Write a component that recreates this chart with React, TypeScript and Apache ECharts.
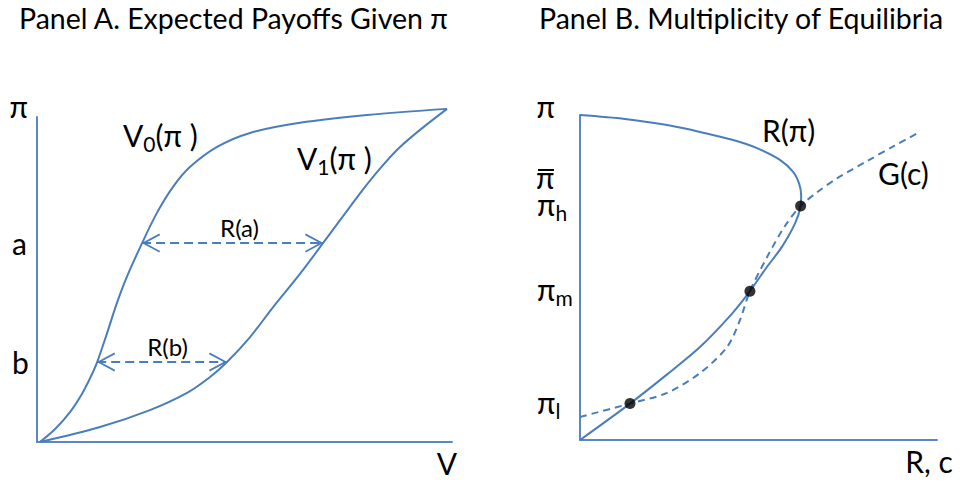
import { useEffect, useRef } from "react";
import * as echarts from "echarts";

// ---- Panel A: expected payoffs, points are [V, π] ----
const v0Curve: number[][] = [
  [0, 0], [3.7, 4.0], [7.3, 9.2], [10.2, 14.8], [12.2, 19.7], [13.9, 24.6],
  [16.3, 33.5], [18.7, 42.8], [21.1, 50.8], [24.8, 61.2], [28.4, 70.5],
  [32.3, 78.5], [36.4, 84.6], [43.0, 90.8], [51.0, 95.1], [63.1, 98.2],
  [79.4, 100.6], [98.8, 102.5],
];
const v1Curve: number[][] = [
  [0, 0], [14.6, 4.6], [26.7, 9.8], [35.7, 15.1], [41.3, 20.0], [45.4, 24.6],
  [51.0, 32.3], [56.6, 41.5], [63.1, 51.7], [68.7, 61.2], [75.2, 72.3],
  [80.8, 81.5], [87.4, 90.8], [98.8, 102.5],
];
const levelNames = ["b", "a"];
const levelValues = [24.6, 61.2];
// horizontal gaps R(b), R(a): [from V0, to V1]
const gapNames = ["R(b)", "R(a)"];
const gapFrom = [13.9, 24.8];
const gapTo = [45.4, 68.7];

// ---- Panel B: multiplicity of equilibria, points are [R or c, π] ----
const rCurve: number[][] = [
  [0, 100], [12.6, 98.8], [24.4, 96.9], [33.6, 94.8], [42.9, 92.3], [49.6, 89.8],
  [56.0, 86.2], [59.7, 82.5], [61.4, 78.8], [61.95, 75.2], [61.8, 72.0],
  [60.3, 66.8], [56.6, 59.5], [52.2, 53.0], [47.6, 45.8], [42.6, 38.9],
  [33.6, 28.6], [24.4, 20.2], [14.0, 11.2], [0, 0],
];
const gCurve: number[][] = [
  [0, 7.1], [14.0, 11.2], [24.4, 14.5], [33.6, 20.6], [41.2, 28.6], [44.8, 36.9],
  [47.6, 45.8], [52.4, 56.3], [57.5, 66.0], [61.8, 72.0], [66.5, 76.3],
  [72.0, 80.5], [80.4, 85.8], [88.0, 90.5], [95.2, 94.8],
];
const equilibria: number[][] = [[14.0, 11.2], [47.6, 45.8], [61.8, 72.0]];
const piTickValues = [11.2, 45.8, 72.0];
const piTickLabels = ["{p|π}{s|l}", "{p|π}{s|m}", "{p|π}{s|h}"];

const FONT = 'Lato, "Open Sans", sans-serif';
const LINE = "#4a7ebb";
const AXIS = "#5b87c5";
const INK = "#000000";

// open chevron arrowhead, tip at the centre of its box, pointing up
const CHEVRON =
  "path://M10,18 L20,36 L18.2,36.8 L10,21.8 L1.8,36.8 L0,36 Z M10,0 L10.02,0 L10,0.02 Z";

// main text with a lowered subscript
const subRich = {
  p: { fontSize: 30, fontFamily: FONT, color: INK, lineHeight: 34, verticalAlign: "top" },
  s: { fontSize: 21, fontFamily: FONT, color: INK, lineHeight: 14, verticalAlign: "bottom" },
};

function curveLabel(x: number, y: number, text: string) {
  return {
    type: "text",
    x,
    y,
    silent: true,
    style: {
      text,
      rich: subRich,
      fontSize: 30,
      fontFamily: FONT,
      fill: INK,
      align: "left",
      verticalAlign: "middle",
      textAlign: "left",
      textVerticalAlign: "middle",
    },
  };
}

export default function App() {
  const ref = useRef<HTMLDivElement>(null);

  useEffect(() => {
    if (!ref.current) return;
    const chart = echarts.init(ref.current, undefined, { renderer: "svg" });

    const hiddenAxisBits = {
      axisTick: { show: false },
      splitLine: { show: false },
    };
    const axisLine = { show: true, onZero: false, lineStyle: { color: AXIS, width: 2 } };
    const titleStyle = { fontSize: 28.5, fontWeight: "normal", color: INK, fontFamily: FONT };

    chart.setOption({
      animation: false,
      backgroundColor: "#ffffff",
      title: [
        { text: "Panel A. Expected Payoffs Given π", left: 14, top: -2, textStyle: titleStyle },
        { text: "Panel B. Multiplicity of Equilibria", left: 534, top: -2, textStyle: titleStyle },
      ],
      grid: [
        { left: 37, top: 117, width: 415, height: 325 },
        { left: 580, top: 115, width: 357, height: 325 },
      ],
      xAxis: [
        {
          gridIndex: 0,
          type: "value",
          min: -0.7,
          max: 100,
          axisLine,
          axisLabel: { show: false },
          ...hiddenAxisBits,
          name: "V",
          nameLocation: "end",
          nameGap: -5,
          nameTextStyle: {
            fontSize: 30, fontFamily: FONT, color: INK,
            align: "center", verticalAlign: "top", padding: [6, 0, 0, 0],
          },
        },
        {
          gridIndex: 1,
          type: "value",
          min: 0,
          max: 100,
          axisLine,
          axisLabel: { show: false },
          ...hiddenAxisBits,
          name: "R, c",
          nameLocation: "end",
          nameGap: -8,
          nameTextStyle: {
            fontSize: 30, fontFamily: FONT, color: INK,
            align: "center", verticalAlign: "top", padding: [6, 0, 0, 0],
          },
        },
      ],
      yAxis: [
        {
          gridIndex: 0,
          type: "value",
          min: 0,
          max: 100,
          axisLine,
          ...hiddenAxisBits,
          axisLabel: {
            show: true,
            customValues: levelValues,
            formatter: (v: number) => levelNames[levelValues.indexOf(v)] ?? "",
            align: "left",
            margin: 25,
            fontSize: 30,
            fontFamily: FONT,
            color: INK,
            hideOverlap: false,
          },
          name: "π",
          nameLocation: "end",
          nameGap: 11,
          nameTextStyle: {
            fontSize: 30, fontFamily: FONT, color: INK,
            align: "right", verticalAlign: "middle", padding: [0, 9, 0, 0],
          },
        },
        {
          gridIndex: 1,
          type: "value",
          min: 0,
          max: 100,
          axisLine,
          ...hiddenAxisBits,
          axisLabel: {
            show: true,
            customValues: piTickValues,
            formatter: (v: number) => piTickLabels[piTickValues.indexOf(v)] ?? "",
            align: "left",
            margin: 43,
            color: INK,
            rich: subRich,
            hideOverlap: false,
          },
          name: "π",
          nameLocation: "end",
          nameGap: 9,
          nameTextStyle: {
            fontSize: 30, fontFamily: FONT, color: INK,
            align: "right", verticalAlign: "middle", padding: [0, 25, 0, 0],
          },
        },
      ],
      series: [
        {
          name: "V0",
          type: "line",
          xAxisIndex: 0,
          yAxisIndex: 0,
          data: v0Curve,
          smooth: 0.35,
          showSymbol: false,
          clip: false,
          silent: true,
          lineStyle: { color: LINE, width: 2 },
          markLine: {
            silent: true,
            symbol: [CHEVRON, CHEVRON],
            symbolSize: [19, 36],
            lineStyle: { type: [9, 5], width: 2, color: LINE },
            itemStyle: { color: LINE },
            label: {
              show: true,
              position: "insideMiddleTop",
              formatter: "{b}",
              fontSize: 24,
              fontFamily: FONT,
              color: INK,
              distance: 4,
            },
            data: gapNames.map((name, i) => [
              {
                name,
                coord: [gapFrom[i], levelValues[i]],
                label: { padding: [0, 0, 0, i === 1 ? 14 : 11] },
              },
              { coord: [gapTo[i], levelValues[i]] },
            ]),
          },
        },
        {
          name: "V1",
          type: "line",
          xAxisIndex: 0,
          yAxisIndex: 0,
          data: v1Curve,
          smooth: 0.35,
          showSymbol: false,
          clip: false,
          silent: true,
          lineStyle: { color: LINE, width: 2 },
        },
        {
          name: "R",
          type: "line",
          xAxisIndex: 1,
          yAxisIndex: 1,
          data: rCurve,
          smooth: 0.3,
          showSymbol: false,
          clip: false,
          silent: true,
          lineStyle: { color: LINE, width: 2 },
        },
        {
          name: "G",
          type: "line",
          xAxisIndex: 1,
          yAxisIndex: 1,
          data: gCurve,
          smooth: 0.3,
          showSymbol: false,
          clip: false,
          silent: true,
          lineStyle: { color: LINE, width: 2, type: [7, 5] },
        },
        {
          name: "equilibria",
          type: "scatter",
          xAxisIndex: 1,
          yAxisIndex: 1,
          data: equilibria,
          symbolSize: 11,
          z: 5,
          silent: true,
          itemStyle: { color: "#000000" },
        },
      ],
      graphic: [
        curveLabel(123, 137, "{p|V}{s|0}{p|(π )}"),
        curveLabel(297, 160, "{p|V}{s|1}{p|(π )}"),
        curveLabel(762, 132, "{p|R(π)}"),
        curveLabel(878, 175, "{p|G(c)}"),
        // π with an overbar: the upper threshold on the π axis
        {
          type: "text",
          x: 536,
          y: 177,
          silent: true,
          style: {
            text: "π",
            fontSize: 30,
            lineHeight: 14,
            fontFamily: FONT,
            fill: INK,
            align: "left",
            verticalAlign: "middle",
            textAlign: "left",
            textVerticalAlign: "middle",
          },
        },
        {
          type: "rect",
          silent: true,
          shape: { x: 538, y: 169, width: 16, height: 2 },
          style: { fill: INK },
        },
      ],
    });

    return () => chart.dispose();
  }, []);

  return (
    <div
      ref={ref}
      style={{ position: "absolute", left: 0, top: 0, width: 964, height: 485, background: "#fff" }}
    />
  );
}
